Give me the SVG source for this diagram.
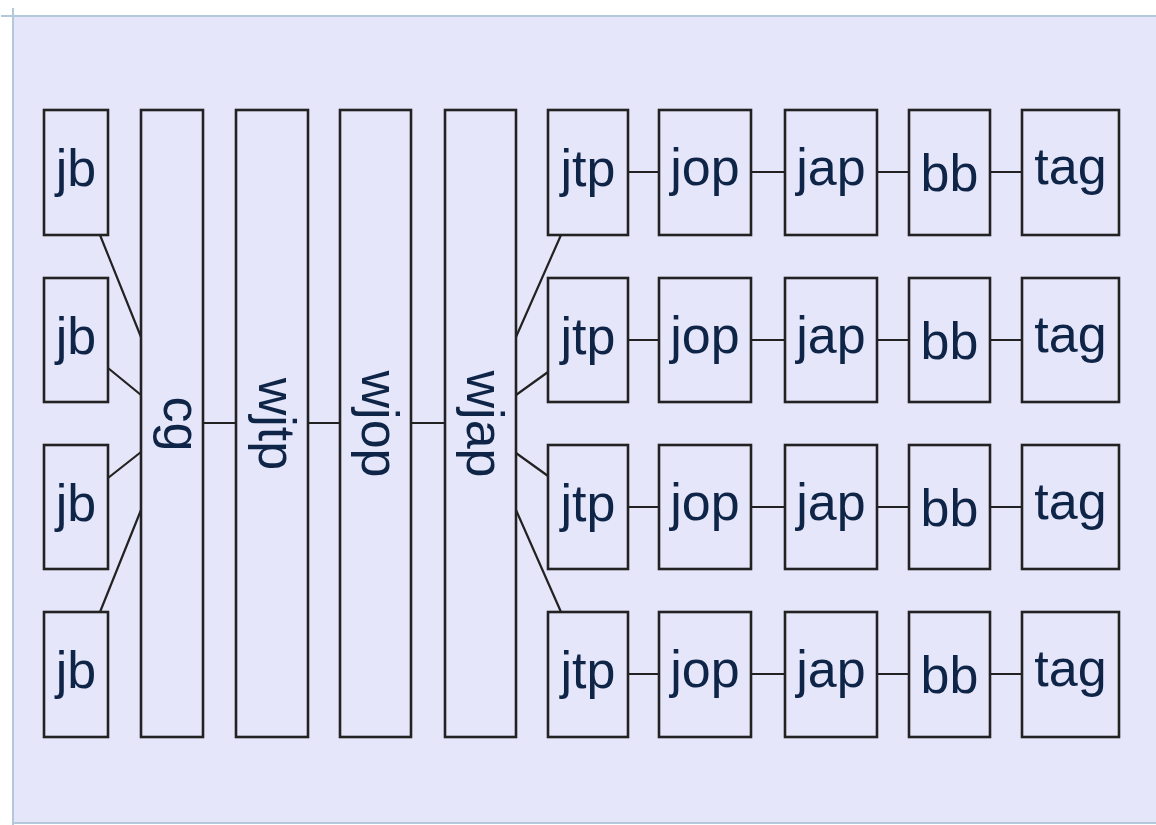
<svg xmlns="http://www.w3.org/2000/svg" width="1156" height="825" viewBox="0 0 1156 825">
<style>
.n{fill:#e6e6fa;stroke:#222;stroke-width:2.6}
.t{font-family:"Liberation Sans",Arial,sans-serif;font-size:52px;fill:#0f2548;text-anchor:middle}
.c{stroke:#222;stroke-width:2.2;fill:none}
</style>
<rect x="0" y="0" width="1156" height="825" fill="#ffffff"/>
<rect x="13" y="16" width="1143" height="807" fill="#e6e6fa"/>
<line x1="1" y1="16" x2="1156" y2="16" stroke="#b4c8dc" stroke-width="2"/>
<line x1="13" y1="8" x2="13" y2="825" stroke="#b4c8dc" stroke-width="2"/>
<line x1="13" y1="823" x2="1156" y2="823" stroke="#b4c8dc" stroke-width="2"/>
<g id="connectors">
<path class="c" d="M100 235L141 337M108 368L141 395M108 478L141 452M100 612L141 510"/>
<path class="c" d="M203 423H236M308 423H340M411 423H445"/>
<path class="c" d="M561 235L516 337M548 372L516 395M516 453L548 476M516 510L561 612"/>
<path class="c" d="M628 172H659M751 172H785M877 172H909M990 172H1022"/>
<path class="c" d="M628 340H659M751 340H785M877 340H909M990 340H1022"/>
<path class="c" d="M628 507H659M751 507H785M877 507H909M990 507H1022"/>
<path class="c" d="M628 674H659M751 674H785M877 674H909M990 674H1022"/>
</g>
<g id="jb1"><rect class="n" x="44" y="110" width="64" height="125"/><text class="t" x="76" y="186">jb</text></g>
<g id="jb2"><rect class="n" x="44" y="278" width="64" height="124"/><text class="t" x="76" y="354">jb</text></g>
<g id="jb3"><rect class="n" x="44" y="445" width="64" height="124"/><text class="t" x="76" y="521">jb</text></g>
<g id="jb4"><rect class="n" x="44" y="612" width="64" height="125"/><text class="t" x="76" y="688">jb</text></g>
<g id="cg"><rect class="n" x="141" y="110" width="62" height="627"/><text class="t" transform="translate(164,424) rotate(90)">cg</text></g>
<g id="wjtp"><rect class="n" x="236" y="110" width="72" height="627"/><text class="t" transform="translate(259,424) rotate(90)">wjtp</text></g>
<g id="wjop"><rect class="n" x="340" y="110" width="71" height="627"/><text class="t" transform="translate(362,424) rotate(90)">wjop</text></g>
<g id="wjap"><rect class="n" x="445" y="110" width="71" height="627"/><text class="t" transform="translate(467,424) rotate(90)">wjap</text></g>
<g id="jtp1"><rect class="n" x="548" y="110" width="80" height="125"/><text class="t" x="588" y="186">jtp</text></g>
<g id="jop1"><rect class="n" x="659" y="110" width="92" height="125"/><text class="t" x="705" y="185">jop</text></g>
<g id="jap1"><rect class="n" x="785" y="110" width="92" height="125"/><text class="t" x="831" y="185">jap</text></g>
<g id="bb1"><rect class="n" x="909" y="110" width="81" height="125"/><text class="t" x="949.5" y="191">bb</text></g>
<g id="tag1"><rect class="n" x="1022" y="110" width="97" height="125"/><text class="t" x="1070.5" y="184">tag</text></g>
<g id="jtp2"><rect class="n" x="548" y="278" width="80" height="124"/><text class="t" x="588" y="354">jtp</text></g>
<g id="jop2"><rect class="n" x="659" y="278" width="92" height="124"/><text class="t" x="705" y="353">jop</text></g>
<g id="jap2"><rect class="n" x="785" y="278" width="92" height="124"/><text class="t" x="831" y="353">jap</text></g>
<g id="bb2"><rect class="n" x="909" y="278" width="81" height="124"/><text class="t" x="949.5" y="359">bb</text></g>
<g id="tag2"><rect class="n" x="1022" y="278" width="97" height="124"/><text class="t" x="1070.5" y="352">tag</text></g>
<g id="jtp3"><rect class="n" x="548" y="445" width="80" height="124"/><text class="t" x="588" y="521">jtp</text></g>
<g id="jop3"><rect class="n" x="659" y="445" width="92" height="124"/><text class="t" x="705" y="520">jop</text></g>
<g id="jap3"><rect class="n" x="785" y="445" width="92" height="124"/><text class="t" x="831" y="520">jap</text></g>
<g id="bb3"><rect class="n" x="909" y="445" width="81" height="124"/><text class="t" x="949.5" y="526">bb</text></g>
<g id="tag3"><rect class="n" x="1022" y="445" width="97" height="124"/><text class="t" x="1070.5" y="519">tag</text></g>
<g id="jtp4"><rect class="n" x="548" y="612" width="80" height="125"/><text class="t" x="588" y="688">jtp</text></g>
<g id="jop4"><rect class="n" x="659" y="612" width="92" height="125"/><text class="t" x="705" y="687">jop</text></g>
<g id="jap4"><rect class="n" x="785" y="612" width="92" height="125"/><text class="t" x="831" y="687">jap</text></g>
<g id="bb4"><rect class="n" x="909" y="612" width="81" height="125"/><text class="t" x="949.5" y="693">bb</text></g>
<g id="tag4"><rect class="n" x="1022" y="612" width="97" height="125"/><text class="t" x="1070.5" y="686">tag</text></g>
</svg>
